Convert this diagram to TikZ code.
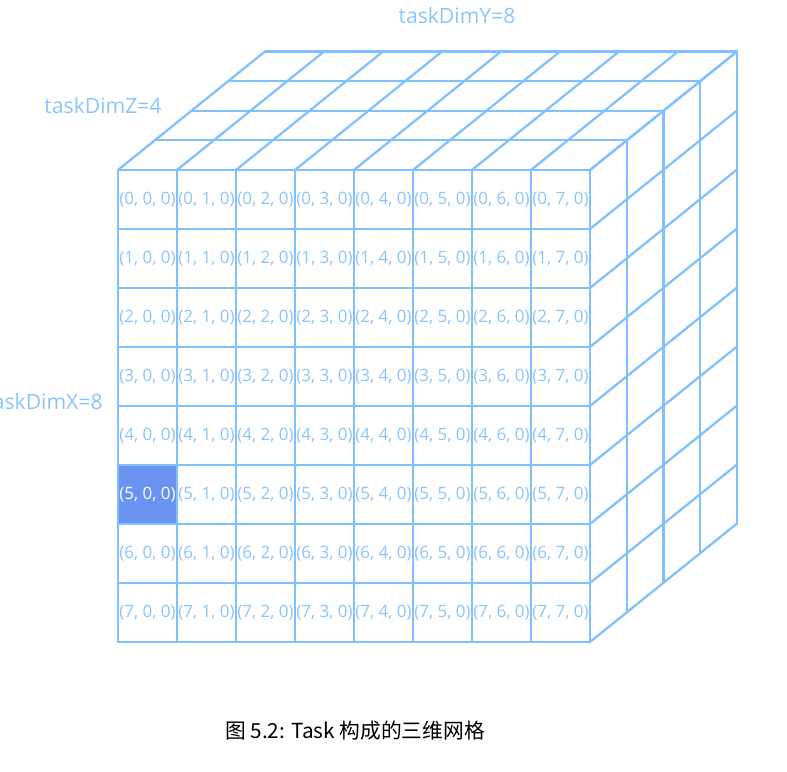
\documentclass[tikz,border=0pt]{standalone}
\usepackage{fontspec}
\setmainfont{Open Sans}
\newfontfamily\cjk{Noto Sans CJK SC}
\usetikzlibrary{positioning,calc}
\definecolor{gridblue}{RGB}{128,192,255}
\definecolor{labelblue}{RGB}{140,196,250}
\definecolor{cellhi}{RGB}{106,146,240}
\tikzset{
  gridline/.style={draw=gridblue, line width=1.1pt, line cap=round, line join=round},
  celltext/.style={inner sep=0pt, text=labelblue, font=\fontsize{8.2}{10}\selectfont},
  dimlabel/.style={inner sep=0pt, text=labelblue, font=\fontsize{10.2}{12}\selectfont},
}

\begin{document}
\begin{tikzpicture}
  \useasboundingbox (-2,-2.203) rectangle (11.339,10.881);
  % offset of one layer in depth
  \def\dx{0.623}
  \def\dy{0.502}
  % highlighted cell (5, 0, 0)
  \fill[cellhi] (0,2) rectangle (1,3);
  % top face
  \foreach \k in {0,...,4}
    \draw[gridline] (\k*\dx, 8+\k*\dy) -- (8+\k*\dx, 8+\k*\dy);
  \foreach \j in {0,...,8}
    \draw[gridline] (\j,8) -- (\j+4*\dx, 8+4*\dy);
  % right face
  \foreach \k in {0,...,4}
    \draw[gridline] (8+\k*\dx, \k*\dy) -- (8+\k*\dx, 8+\k*\dy);
  \foreach \i in {0,...,8}
    \draw[gridline] (8,\i) -- (8+4*\dx, \i+4*\dy);
  % front face
  \draw[gridline, line width=1.4pt] (0,0) grid (8,8);
  % labels of the front cells
  \foreach \r in {0,...,7} \foreach \c in {0,...,7} {
    \def\tc{labelblue}
    \ifnum\r=5 \ifnum\c=0 \def\tc{white}\fi\fi
    \node[celltext, text=\tc] (c-\r-\c) at (\c+0.5, 7.5-\r) {(\r, \c, 0)};
  }
  % dimensions
  \node[dimlabel] (dimy) at (5.746,10.61) {taskDimY=8};
  \node[dimlabel] (dimz) at (-0.254,9.085) {taskDimZ=4};
  \node[dimlabel, anchor=east] (dimx) at (-0.254,4.07) {taskDimX=8};
  % caption
  \node[font=\cjk\fontsize{10}{12}\selectfont] (cap) at (4.017,-1.508) {图 5.2: Task 构成的三维网格};
\end{tikzpicture}
\end{document}
